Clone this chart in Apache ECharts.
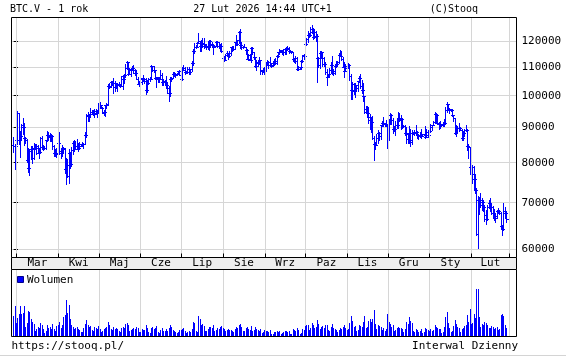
<!DOCTYPE html>
<html><head><meta charset="utf-8">
<script src="https://cdn.jsdelivr.net/npm/echarts@6/dist/echarts.min.js"></script>
<style>html,body{margin:0;padding:0;background:#fff}#c{width:566px;height:357px}</style>
</head><body><div id="c"></div>
<script>
// ---------- DATA ----------
const startDate = [2025, 1, 27]; // first trading day (27 Feb 2025), one bar per day
const monthLabels = ['Mar','Kwi','Maj','Cze','Lip','Sie','Wrz','Paz','Lis','Gru','Sty','Lut'];
const priceTicks = [60000, 70000, 80000, 90000, 100000, 110000, 120000];
// daily OHLC, thousands USD: [open, high, low, close]
const ohlcFeb25 = [[84.7,87.0,82.8,84.4],[84.4,85.1,78.2,84.4]];
const ohlcMar25 = [
[84.4,86.5,83.8,86.0],[86.0,95.0,85.0,94.3],[94.3,94.4,85.0,86.1],[86.1,88.9,81.5,87.2],[87.2,90.9,86.4,90.6],[90.6,92.8,87.8,89.9],[89.9,91.2,84.7,86.7],[86.7,86.9,85.3,86.2],[86.2,86.5,80.1,80.7],[80.7,83.9,77.5,78.5],
[78.5,83.6,76.6,82.9],[82.9,84.4,80.8,83.7],[83.7,84.3,79.9,81.1],[81.1,85.2,80.8,84.0],[84.0,85.0,83.7,84.3],[84.3,85.0,82.2,82.6],[82.6,84.7,82.5,84.0],[84.0,84.0,81.2,82.7],[82.7,87.0,82.4,86.8],[86.8,87.4,83.7,84.2],
[84.2,84.8,83.2,84.0],[84.0,84.5,83.6,83.8],[83.8,86.1,83.5,86.1],[86.1,88.8,85.9,87.5],[87.5,88.5,86.3,87.4],[87.4,88.3,85.9,86.9],[86.9,87.8,85.9,87.2],[87.2,87.5,83.6,84.4],[84.4,84.6,81.7,82.6],[82.6,83.5,81.6,82.3],[82.3,83.9,81.3,82.5]];
const ohlcApr25 = [
[82.5,85.5,82.4,85.2],[85.2,88.5,82.3,82.5],[82.5,83.9,81.2,83.1],[83.1,84.7,81.7,83.8],[83.8,84.2,82.4,83.5],[83.5,83.8,77.2,78.2],[78.2,81.1,74.5,79.2],[79.2,80.8,76.2,76.3],[76.3,83.5,74.6,82.6],[82.6,82.7,78.5,79.6],
[79.6,84.2,78.9,83.4],[83.4,85.9,82.1,85.3],[85.3,86.1,83.0,83.7],[83.7,85.8,83.7,84.5],[84.5,86.5,83.6,83.7],[83.7,85.4,83.1,84.0],[84.0,85.5,83.8,84.9],[84.9,85.1,84.3,84.5],[84.5,85.6,84.4,85.1],[85.1,85.3,83.9,85.1],
[85.1,88.5,85.1,87.5],[87.5,93.8,87.1,93.4],[93.4,94.7,91.9,93.7],[93.7,94.0,91.7,93.9],[93.9,95.8,92.9,94.7],[94.7,95.3,93.9,94.6],[94.6,95.2,93.5,93.8],[93.8,95.6,92.9,95.0],[95.0,95.5,93.8,94.3],[94.3,95.2,92.9,94.2]];
const ohlcMay25 = [
[94.2,97.4,94.1,96.5],[96.5,97.9,96.0,96.9],[96.9,96.9,95.7,95.9],[95.9,96.3,94.2,94.3],[94.3,95.2,93.5,94.7],[94.7,96.9,93.4,96.8],[96.8,97.6,95.9,97.0],[97.0,103.9,96.9,103.2],[103.2,104.3,102.3,102.9],[102.9,104.9,102.8,104.6],
[104.6,104.8,103.3,104.1],[104.1,105.8,100.8,102.8],[102.8,104.9,101.5,104.1],[104.1,104.3,102.6,103.5],[103.5,104.1,101.4,103.7],[103.7,104.6,103.1,103.5],[103.5,103.7,102.7,103.2],[103.2,106.6,103.1,106.5],[106.5,107.1,102.0,105.6],[105.6,107.3,104.2,106.8],
[106.8,110.8,106.1,109.6],[109.6,111.9,109.3,111.7],[111.7,111.8,106.8,107.3],[107.3,109.5,107.3,108.9],[108.9,109.3,106.7,109.0],[109.0,110.4,108.7,109.4],[109.4,110.7,107.6,108.9],[108.9,109.3,106.9,107.8],[107.8,108.9,105.4,105.6],[105.6,106.3,103.7,103.9],[103.9,104.9,103.1,104.6]];
const ohlcJun25 = [
[104.6,105.9,103.9,105.7],[105.7,105.9,103.7,105.8],[105.8,106.8,104.9,105.4],[105.4,106.0,104.2,104.7],[104.7,105.9,100.4,101.6],[101.6,105.3,101.1,104.3],[104.3,105.9,103.9,105.6],[105.6,106.4,105.0,105.7],[105.7,110.5,105.4,110.3],[110.3,110.4,108.4,110.2],
[110.2,110.4,108.1,108.7],[108.7,108.8,105.7,105.9],[105.9,106.2,102.8,106.1],[106.1,106.2,104.5,105.4],[105.4,106.1,104.5,105.6],[105.6,108.9,105.4,107.1],[107.1,107.8,103.4,104.6],[104.6,105.6,103.6,104.9],[104.9,105.2,103.9,104.6],[104.6,106.5,102.4,103.3],
[103.3,104.0,100.9,102.3],[102.3,103.1,98.2,100.9],[100.9,106.1,99.6,105.6],[105.6,106.3,104.7,106.0],[106.0,108.1,105.9,107.3],[107.3,108.2,106.6,106.9],[106.9,107.8,106.4,107.1],[107.1,107.6,106.9,107.3],[107.3,108.5,107.2,108.4],[108.4,108.8,106.8,107.1]];
const ohlcJul25 = [
[107.1,107.5,105.3,105.7],[105.7,109.8,105.2,108.8],[108.8,110.6,108.6,109.6],[109.6,109.8,107.3,108.0],[108.0,108.4,107.8,108.2],[108.2,109.7,107.8,109.2],[109.2,109.7,107.5,108.2],[108.2,109.2,107.5,109.0],[109.0,111.9,108.4,111.3],[111.3,116.8,110.6,115.9],
[115.9,118.9,115.2,117.5],[117.5,118.2,116.9,117.4],[117.4,119.5,117.3,119.1],[119.1,123.1,118.9,119.8],[119.8,119.9,115.8,117.7],[117.7,120.0,116.0,118.6],[118.6,120.9,117.6,119.2],[119.2,120.9,116.9,117.9],[117.9,118.6,117.3,117.8],[117.8,118.8,116.6,117.3],
[117.3,119.7,116.5,117.4],[117.4,120.2,116.2,119.9],[119.9,120.1,117.3,118.7],[118.7,119.5,117.8,118.4],[118.4,118.5,114.7,117.6],[117.6,118.3,117.4,117.9],[117.9,119.8,117.8,119.4],[119.4,119.8,117.4,118.0],[118.0,119.3,116.9,117.8],[117.8,118.8,115.7,117.8],[117.8,118.9,115.5,115.8]];
const ohlcAug25 = [
[115.8,116.1,112.7,113.3],[113.3,114.0,112.0,112.5],[112.5,114.7,112.3,114.2],[114.2,115.7,114.1,115.0],[115.0,115.1,112.7,114.1],[114.1,115.7,113.4,115.0],[115.0,117.6,114.3,117.5],[117.5,117.7,115.9,116.7],[116.7,117.9,116.3,116.5],[116.5,119.3,116.5,119.3],
[119.3,122.3,118.1,118.7],[118.7,120.3,118.2,120.2],[120.2,123.7,118.9,123.3],[123.3,124.5,117.2,118.4],[118.4,119.3,116.8,117.4],[117.4,117.9,117.2,117.5],[117.5,118.6,117.3,117.4],[117.4,117.6,114.7,116.2],[116.2,116.8,112.7,112.9],[112.9,114.6,112.4,114.3],
[114.3,114.6,112.4,112.5],[112.5,117.4,111.7,116.9],[116.9,117.4,114.8,115.4],[115.4,115.6,112.8,113.5],[113.5,113.6,109.7,110.1],[110.1,112.3,108.7,111.8],[111.8,112.6,110.4,111.3],[111.3,113.4,110.9,112.6],[112.6,112.6,107.5,108.4],[108.4,108.9,107.5,108.8],[108.8,109.4,108.1,108.2]];
const ohlcSep25 = [
[108.2,109.9,107.3,109.2],[109.2,111.8,108.4,111.2],[111.2,112.6,110.6,111.7],[111.7,112.2,109.4,110.7],[110.7,113.4,110.2,110.7],[110.7,111.2,110.0,110.2],[110.2,111.6,110.2,111.2],[111.2,112.9,110.6,112.1],[112.1,113.2,110.9,111.5],[111.5,114.3,110.8,113.9],
[113.9,115.5,113.5,115.5],[115.5,116.7,114.8,116.1],[116.1,116.3,115.3,115.9],[115.9,116.1,114.8,115.3],[115.3,116.8,114.4,115.4],[115.4,117.0,114.8,116.8],[116.8,117.3,114.7,116.5],[116.5,117.9,116.4,117.1],[117.1,117.4,115.2,115.7],[115.7,116.3,115.6,115.7],
[115.7,115.9,115.2,115.3],[115.3,115.4,112.0,112.7],[112.7,113.3,111.6,112.0],[112.0,114.0,111.4,113.3],[113.3,113.4,108.7,109.0],[109.0,110.3,108.6,109.7],[109.7,109.8,109.2,109.7],[109.7,112.3,109.3,112.1],[112.1,114.5,111.6,114.4],[114.4,114.8,112.7,114.1]];
const ohlcOct25 = [
[114.1,118.6,113.9,118.6],[118.6,121.0,118.2,120.6],[120.6,123.9,119.4,122.3],[122.3,122.9,121.4,122.4],[122.4,125.6,122.0,123.5],[123.5,126.2,123.2,124.8],[124.8,125.1,120.6,121.5],[121.5,124.2,121.1,123.3],[123.3,123.8,119.8,121.7],[121.7,122.5,104.6,113.2],
[113.2,113.4,109.7,110.6],[110.6,115.8,109.6,115.2],[115.2,116.0,113.1,115.3],[115.3,115.4,110.1,113.1],[113.1,113.6,110.2,110.8],[110.8,111.8,107.5,108.2],[108.2,109.2,103.5,106.4],[106.4,107.5,106.4,107.2],[107.2,109.4,106.1,108.6],[108.6,111.7,107.6,110.6],
[110.6,114.0,107.5,108.5],[108.5,109.0,106.8,107.6],[107.6,110.5,107.5,110.1],[110.1,112.0,109.7,111.0],[111.0,111.9,110.7,111.6],[111.6,115.0,111.3,114.5],[114.5,116.1,113.9,114.1],[114.1,116.0,112.3,112.9],[112.9,113.6,109.7,110.0],[110.0,111.6,106.4,108.3],[108.3,111.1,108.3,109.6]];
const ohlcNov25 = [
[109.6,110.6,109.4,110.1],[110.1,111.2,109.5,110.6],[110.6,110.8,105.3,106.5],[106.5,107.3,98.9,101.6],[101.6,104.5,98.9,103.9],[103.9,104.1,100.3,101.3],[101.3,104.0,99.3,103.4],[103.4,103.4,101.5,102.3],[102.3,105.0,101.4,104.7],[104.7,106.6,104.5,105.9],
[105.9,107.3,102.5,103.1],[103.1,105.3,100.8,101.6],[101.6,104.0,98.1,99.7],[99.7,99.8,94.1,94.6],[94.6,96.6,94.6,95.5],[95.5,96.6,93.0,94.2],[94.2,96.0,91.3,92.2],[92.2,93.8,89.3,92.9],[92.9,93.1,88.6,91.5],[91.5,93.2,86.3,86.6],
[86.6,87.4,80.6,85.1],[85.1,85.6,83.5,84.7],[84.7,88.0,84.6,86.8],[86.8,89.2,85.3,88.3],[88.3,88.6,86.1,87.3],[87.3,90.6,86.3,90.5],[90.5,91.9,90.1,91.3],[91.3,93.1,90.2,90.9],[90.9,91.2,90.3,90.8],[90.8,92.0,90.3,90.4]];
const ohlcDec25 = [
[90.4,90.4,83.8,86.3],[86.3,92.3,86.2,91.3],[91.3,94.1,91.0,93.5],[93.5,94.0,91.0,92.1],[92.1,92.7,88.1,89.4],[89.4,90.3,88.9,89.3],[89.3,91.7,87.7,90.4],[90.4,92.3,89.7,90.6],[90.6,94.6,89.6,92.7],[92.7,94.4,91.8,92.0],
[92.0,93.5,89.3,92.5],[92.5,92.8,89.5,90.3],[90.3,90.6,89.8,90.3],[90.3,90.5,87.6,88.2],[88.2,90.0,85.2,86.4],[86.4,88.1,85.3,87.8],[87.8,90.3,85.4,86.2],[86.2,89.4,84.5,85.5],[85.5,89.0,85.1,88.1],[88.1,88.5,87.8,88.3],
[88.3,89.0,87.6,88.6],[88.6,90.5,87.9,88.5],[88.5,88.9,86.6,87.5],[87.5,88.0,86.4,87.6],[87.6,88.5,87.0,87.2],[87.2,89.4,86.8,87.3],[87.3,87.9,87.2,87.8],[87.8,88.0,87.5,87.8],[87.8,90.3,86.8,87.1],[87.1,89.3,86.9,88.4],[88.4,89.0,87.1,87.5]];
const ohlcJan26 = [
[87.5,88.9,87.3,88.7],[88.7,90.9,88.5,89.9],[89.9,90.6,89.2,90.6],[90.6,91.8,90.4,91.4],[91.4,94.7,91.3,93.9],[93.9,94.4,91.3,93.7],[93.7,93.7,90.8,91.3],[91.3,91.6,89.4,91.0],[91.0,91.9,89.7,90.5],[90.5,90.8,90.2,90.4],
[90.4,91.5,90.3,90.8],[90.8,92.4,90.1,91.2],[91.2,96.2,91.0,95.3],[95.3,97.9,94.6,97.0],[97.0,97.2,95.1,95.6],[95.6,95.8,94.3,95.5],[95.5,95.6,94.9,95.1],[95.1,95.5,93.2,93.6],[93.6,93.7,91.9,92.6],[92.6,92.8,87.9,88.3],
[88.3,90.4,87.3,89.5],[89.5,90.3,88.5,89.5],[89.5,91.1,88.9,89.5],[89.5,89.8,89.0,89.2],[89.2,89.3,86.1,86.6],[86.6,88.9,86.2,88.2],[88.2,89.4,87.3,89.1],[89.1,90.5,88.8,89.2],[89.2,89.3,83.4,84.5],[84.5,84.9,81.1,84.1],[84.1,84.2,77.0,78.6]];
const ohlcFeb26 = [
[78.6,79.4,75.7,76.9],[76.9,79.3,74.6,78.7],[78.7,79.0,73.0,75.6],[75.6,76.9,72.3,73.0],[73.0,73.4,62.8,63.0],[63.0,71.5,60.1,70.5],[70.5,71.2,67.4,69.3],[69.3,72.2,68.9,70.6],[70.6,71.0,68.2,70.1],[70.1,70.5,68.0,68.8],
[68.8,69.3,65.8,67.0],[67.0,68.3,65.1,66.2],[66.2,69.4,65.9,68.8],[68.8,70.5,68.6,69.8],[69.8,70.9,68.1,68.8],[68.8,69.7,67.3,68.9],[68.9,69.2,66.6,67.5],[67.5,68.4,65.9,66.4],[66.4,67.3,65.6,66.9],[66.9,68.2,66.5,67.9],
[67.9,68.6,67.6,68.0],[68.0,68.3,67.2,67.6],[67.6,67.7,64.2,64.6],[64.6,64.9,62.8,64.1],[64.1,69.9,63.9,68.0],[68.0,68.9,66.4,67.5],[67.5,68.0,65.6,66.3]];
// daily volume (relative units)
const volFeb25 = [21,31];
const volMar25 = [14,19,23,31,23,24,31,10,14,26,25,18,15,13,6,8,10,9,14,12,8,4,6,12,9,10,8,13,8,6,11];
const volApr25 = [12,15,9,12,20,22,37,24,32,18,12,10,8,9,10,8,7,5,5,9,13,17,12,10,11,7,6,10,9,8];
const volMay25 = [11,8,5,6,8,9,10,15,12,8,7,10,8,9,8,6,5,9,10,9,13,14,12,6,7,8,9,8,10,9,5];
const volJun25 = [5,8,7,7,12,9,5,4,9,10,8,9,11,5,4,7,9,6,6,8,6,9,12,10,7,6,5,4,5,7];
const volJul25 = [7,8,9,6,4,5,6,5,8,15,14,6,5,21,18,12,13,11,6,6,8,10,10,9,12,6,7,9,8,10,11];
const volAug25 = [9,8,6,7,8,7,7,6,5,8,10,9,12,13,10,6,6,9,10,8,7,11,6,7,10,8,7,6,8,4,5];
const volSep25 = [7,6,6,5,7,3,3,5,5,6,5,6,3,4,5,6,6,5,6,3,3,8,7,6,9,7,3,4,8,7];
const volOct25 = [11,12,12,7,9,14,12,9,10,17,13,8,10,11,9,12,12,7,6,10,13,9,8,7,5,7,9,8,10,12,9];
const volNov25 = [7,8,14,21,16,10,11,6,7,12,11,10,15,21,9,10,16,18,15,18,27,13,8,12,11,10,7,9,6,8];
const volDec25 = [23,15,13,10,12,6,7,9,10,9,9,8,5,8,15,13,20,16,14,6,5,8,7,5,6,8,4,5,9,8,7];
const volJan26 = [6,8,6,7,12,10,9,8,8,4,5,10,20,25,14,9,5,6,11,17,13,10,9,5,8,9,11,12,22,15,28];
const volFeb26 = [13,14,23,19,48,48,20,10,13,12,15,14,12,9,9,11,10,8,9,10,7,8,22,23,21,12,9];

// ---------- BUILD ----------
const BLUE = '#0000ff';
const FONT = 'DejaVu Sans Mono';
const ohlc = [].concat(ohlcFeb25, ohlcMar25, ohlcApr25, ohlcMay25, ohlcJun25, ohlcJul25, ohlcAug25, ohlcSep25, ohlcOct25, ohlcNov25, ohlcDec25, ohlcJan26, ohlcFeb26);
const vols = [].concat(volFeb25, volMar25, volApr25, volMay25, volJun25, volJul25, volAug25, volSep25, volOct25, volNov25, volDec25, volJan26, volFeb26);
const t0 = Date.UTC(startDate[0], startDate[1], startDate[2]);
const dayIdx = (y, m, d) => (Date.UTC(y, m, d) - t0) / 864e5;
const monthStarts = [];
for (let k = 0; k <= 12; k++) monthStarts.push(dayIdx(2025, 2 + k, 1));
const monthMids = [];
for (let k = 0; k < 12; k++) monthMids.push((monthStarts[k] + monthStarts[k + 1]) / 2);
const logTicks = priceTicks.map(v => Math.log10(v));
const X_MIN = -1.7, X_MAX = 372.35;
const Y_MIN = 4.76585, Y_MAX = 5.11319;

const priceData = ohlc.map((d, i) => [i, Math.log10(d[0] * 1000), Math.log10(d[1] * 1000), Math.log10(d[2] * 1000), Math.log10(d[3] * 1000)]);
const volData = vols.map((v, i) => [i, v]);

function renderBar(params, api) {
  const i = api.value(0);
  const pO = api.coord([i, api.value(1)]);
  const pH = api.coord([i, api.value(2)]);
  const pL = api.coord([i, api.value(3)]);
  const pC = api.coord([i, api.value(4)]);
  const x = Math.floor(pH[0]) + 0.5;
  const yH = Math.floor(pH[1]), yL = Math.floor(pL[1]) + 1;
  const yO = Math.floor(pO[1]) + 0.5, yC = Math.floor(pC[1]) + 0.5;
  const st = { stroke: BLUE, lineWidth: 1, fill: null };
  return { type: 'group', children: [
    { type: 'line', shape: { x1: x, y1: yH, x2: x, y2: yL }, style: st },
    { type: 'line', shape: { x1: x - 2.5, y1: yO, x2: x - 0.5, y2: yO }, style: st },
    { type: 'line', shape: { x1: x + 0.5, y1: yC, x2: x + 2.5, y2: yC }, style: st }
  ]};
}
function renderVol(params, api) {
  const i = api.value(0);
  const top = api.coord([i, api.value(1)]);
  const base = api.coord([i, 0]);
  const x = Math.floor(top[0]);
  const y = Math.round(top[1]);
  return { type: 'rect', shape: { x: x, y: y, width: 1, height: Math.round(base[1]) - y }, style: { fill: BLUE } };
}

const GRID_LINE = { color: '#d6d6d6', width: 1 };
const chart = echarts.init(document.getElementById('c'), null, { renderer: 'canvas' });
chart.setOption({
  animation: false,
  backgroundColor: '#fff',
  grid: [
    { left: 11.5, top: 17.5, width: 505, height: 240, outerBoundsMode: 'none', containLabel: false },
    { left: 11.5, top: 269.5, width: 505, height: 67, outerBoundsMode: 'none', containLabel: false }
  ],
  xAxis: [
    { gridIndex: 0, type: 'value', min: X_MIN, max: X_MAX, position: 'bottom', z: 50,
      axisLine: { show: false },
      axisTick: { show: true, inside: true, length: 4, customValues: monthStarts, lineStyle: { color: '#000' } },
      splitLine: { show: true, lineStyle: GRID_LINE },
      axisLabel: { show: true, customValues: monthMids, margin: 0, fontSize: 11, fontFamily: FONT, color: '#000',
        formatter: v => monthLabels[monthMids.indexOf(v)] || '' } },
    { gridIndex: 0, type: 'value', min: X_MIN, max: X_MAX, position: 'top',
      axisLine: { show: false },
      axisTick: { show: true, inside: true, length: 4, customValues: monthStarts, lineStyle: { color: '#000' } },
      splitLine: { show: false }, axisLabel: { show: false } },
    { gridIndex: 1, type: 'value', min: X_MIN, max: X_MAX, position: 'bottom',
      axisLine: { show: false },
      axisTick: { show: false, customValues: monthStarts },
      splitLine: { show: true, lineStyle: GRID_LINE }, axisLabel: { show: false } }
  ],
  yAxis: [
    { gridIndex: 0, type: 'value', min: Y_MIN, max: Y_MAX, position: 'right',
      axisLine: { show: false },
      axisTick: { show: true, inside: false, length: 4, customValues: logTicks, lineStyle: { color: '#000' } },
      splitLine: { show: true, lineStyle: GRID_LINE },
      axisLabel: { show: true, customValues: logTicks, margin: 5, fontSize: 11, fontFamily: FONT, color: '#000',
        formatter: v => String(Math.round(Math.pow(10, v))) } },
    { gridIndex: 0, type: 'value', min: Y_MIN, max: Y_MAX, position: 'left',
      axisLine: { show: false },
      axisTick: { show: true, inside: true, length: 4, customValues: logTicks, lineStyle: { color: '#000' } },
      splitLine: { show: false }, axisLabel: { show: false } },
    { gridIndex: 1, type: 'value', min: 0, max: 67, show: false }
  ],
  series: [
    { type: 'custom', name: 'BTC.V', xAxisIndex: 0, yAxisIndex: 0, renderItem: renderBar, data: priceData,
      encode: { x: 0, y: [1, 2, 3, 4] }, clip: true, z: 5 },
    { type: 'custom', name: 'Wolumen', xAxisIndex: 2, yAxisIndex: 2, renderItem: renderVol, data: volData,
      encode: { x: 0, y: 1 }, clip: true, z: 5 }
  ],
  graphic: [
    { type: 'rect', z: -5, shape: { x: 12, y: 258, width: 504, height: 11 }, style: { fill: '#eeeeee' } },
    { type: 'line', z: 100, shape: { x1: 11.5, y1: 257.5, x2: 11.5, y2: 269.5 }, style: { stroke: '#000', lineWidth: 1 } },
    { type: 'line', z: 100, shape: { x1: 516.5, y1: 257.5, x2: 516.5, y2: 269.5 }, style: { stroke: '#000', lineWidth: 1 } },
    { type: 'rect', z: 100, shape: { x: 11.5, y: 17.5, width: 505, height: 240 }, style: { fill: null, stroke: '#000', lineWidth: 1 } },
    { type: 'rect', z: 100, shape: { x: 11.5, y: 269.5, width: 505, height: 67 }, style: { fill: null, stroke: '#000', lineWidth: 1 } },
    { type: 'line', z: 100, shape: { x1: 0, y1: 355.5, x2: 566, y2: 355.5 }, style: { stroke: '#d4d4d4', lineWidth: 1 } },
    { type: 'text', z: 100, x: 10, y: 9.5, style: { text: 'BTC.V - 1 rok', font: '10px "DejaVu Sans Mono"', fill: '#000', verticalAlign: 'middle', align: 'left' } },
    { type: 'text', z: 100, x: 262.5, y: 9.5, style: { text: '27 Lut 2026 14:44 UTC+1', font: '10px "DejaVu Sans Mono"', fill: '#000', verticalAlign: 'middle', align: 'center' } },
    { type: 'text', z: 100, x: 478, y: 9.5, style: { text: '(C)Stooq', font: '10px "DejaVu Sans Mono"', fill: '#000', verticalAlign: 'middle', align: 'right' } },
    { type: 'rect', z: 100, shape: { x: 17.5, y: 276.5, width: 6, height: 6 }, style: { fill: BLUE, stroke: '#00008b', lineWidth: 1 } },
    { type: 'text', z: 100, x: 27, y: 280, style: { text: 'Wolumen', font: '11px "DejaVu Sans Mono"', fill: '#000', verticalAlign: 'middle', align: 'left' } },
    { type: 'text', z: 100, x: 11.5, y: 346, style: { text: 'https://stooq.pl/', font: '11px "DejaVu Sans Mono"', fill: '#000', verticalAlign: 'middle', align: 'left' } },
    { type: 'text', z: 100, x: 518, y: 346, style: { text: 'Interwal Dzienny', font: '11px "DejaVu Sans Mono"', fill: '#000', verticalAlign: 'middle', align: 'right' } }
  ]
});
</script>
</body></html>
